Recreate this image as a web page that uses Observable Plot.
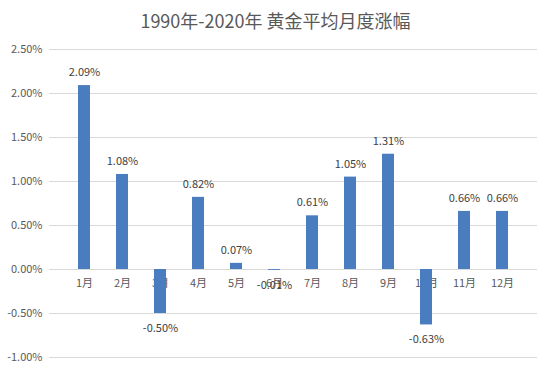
<!DOCTYPE html>
<html>
<head>
<meta charset="utf-8">
<script src="https://cdn.jsdelivr.net/npm/d3@7"></script>
<script src="https://cdn.jsdelivr.net/npm/@observablehq/plot@0.6"></script>
<style>
  body { margin: 0; background: #fff; font-family: "Noto Sans CJK SC", "Noto Sans", sans-serif; }
  #title { width: 551px; height: 40px; line-height: 40px; text-align: center; font-size: 18px; color: #595959; font-weight: 400; }
</style>
</head>
<body>
<div id="title">1990年-2020年 黄金平均月度涨幅</div>
<div id="chart"></div>
<script>
const months = ["1月","2月","3月","4月","5月","6月","7月","8月","9月","10月","11月","12月"];
const values = [2.09, 1.08, -0.50, 0.82, 0.07, -0.01, 0.61, 1.05, 1.31, -0.63, 0.66, 0.66];
const yTicks = [-1.0, -0.5, 0, 0.5, 1.0, 1.5, 2.0, 2.5];

const data = months.map((m, i) => ({month: m, value: values[i]}));
const fmt = d => d.toFixed(2) + "%";

const chart = Plot.plot({
  width: 551,
  height: 329,
  marginTop: 9,
  marginBottom: 12,
  marginLeft: 49,
  marginRight: 14,
  style: {fontFamily: '"Noto Sans CJK SC", "Noto Sans", sans-serif', fontSize: "11px", background: "#fff"},
  x: {domain: months, padding: 0.68, axis: null},
  y: {domain: [-1.0, 2.5], axis: null},
  marks: [
    Plot.gridY(yTicks, {stroke: "#d9d9d9", strokeOpacity: 1}),
    Plot.axisY(yTicks, {tickSize: 0, tickPadding: 7, tickFormat: fmt, fill: "#595959", fontSize: 11, label: null}),
    Plot.text(data, {x: "month", y: () => 0, text: "month", dy: 14, fill: "#595959", fontSize: 11}),
    Plot.barY(data, {x: "month", y: "value", fill: "#4a7dbf"}),
    Plot.text(data.filter(d => d.value >= 0), {x: "month", y: "value", text: d => fmt(d.value), dy: -13, fill: "#404040", fontSize: 11}),
    Plot.text(data.filter(d => d.value < 0), {x: "month", y: "value", text: d => fmt(d.value), dy: 15, fill: "#404040", fontSize: 11})
  ]
});
document.getElementById("chart").appendChild(chart);
</script>
</body>
</html>
